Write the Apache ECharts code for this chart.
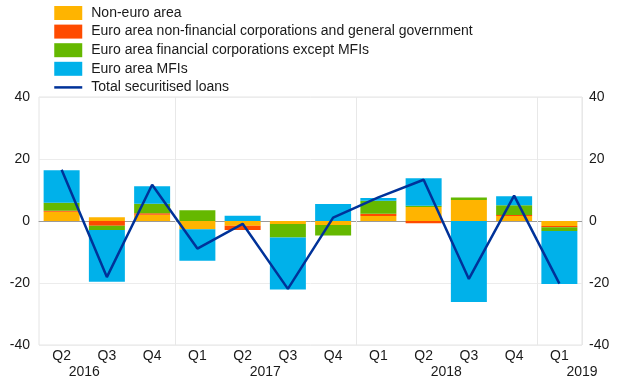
<!DOCTYPE html>
<html>
<head>
<meta charset="utf-8">
<script src="https://cdn.jsdelivr.net/npm/echarts@6/dist/echarts.min.js"></script>
<style>
html,body{margin:0;padding:0;background:#fff;}
#c{width:620px;height:387px;}
</style>
</head>
<body>
<div id="c"></div>
<script>
var quarters = ['Q2','Q3','Q4','Q1','Q2','Q3','Q4','Q1','Q2','Q3','Q4','Q1'];
var yearLabels = ['','2016','','','','2017','','','','2018','','','2019'];
var seriesNames = ['Non-euro area','Euro area non-financial corporations and general government','Euro area financial corporations except MFIs','Euro area MFIs','Total securitised loans'];
var nonEuro = [3.0, 1.2, 2.0, -2.7, -1.5, -1.0, -1.3, 1.6, 4.5, 6.8, 1.6, -1.6];
var nfcGov  = [0.3, -1.5, 0.5, 0, -1.4, 0, 0, 0.7, -0.7, 0, 0.3, -0.4];
var finCorp = [2.6, -1.4, 3.1, 3.5, 0, -4.3, -3.4, 4.2, 0.4, 0.8, 3.2, -1.2];
var mfis    = [10.5, -16.7, 5.6, -10.1, 1.7, -16.8, 5.5, 0.9, 8.9, -26.1, 2.9, -17.1];
var total   = [16.5, -18.1, 11.7, -8.9, -0.9, -21.9, 1.1, 7.6, 13.3, -18.7, 8.2, -20.2];
var yTicks = {min: -40, max: 40, interval: 20};

var colors = ['#FFB400','#FF4B00','#65B800','#00B1EA','#003299'];
var font = "'Liberation Sans', Arial, sans-serif";
var textColor = '#1a1a1a';
var isYearStart = function (i) { return quarters[i] === 'Q1'; };

var chart = echarts.init(document.getElementById('c'), null, {renderer: 'canvas'});
var barSeries = [nonEuro, nfcGov, finCorp, mfis].map(function (d, k) {
  return {
    name: seriesNames[k], type: 'bar', stack: 'a', data: d,
    barWidth: 36, itemStyle: {color: colors[k]}, xAxisIndex: 0, yAxisIndex: 0
  };
});
barSeries.push({
  name: seriesNames[4], type: 'line', data: total, symbol: 'none',
  lineStyle: {color: colors[4], width: 2.5}, itemStyle: {color: colors[4]},
  xAxisIndex: 0, yAxisIndex: 0, z: 5
});

var legendData = seriesNames.slice(0, 4).map(function (n) { return {name: n, icon: 'rect'}; });
legendData.push({name: seriesNames[4], itemStyle: {color: 'transparent', borderWidth: 0, opacity: 0}, lineStyle: {color: colors[4], width: 2.5}});

chart.setOption({
  animation: false,
  textStyle: {fontFamily: font},
  grid: {left: 39, right: 38, top: 97, bottom: 42, show: true, borderColor: '#e4e4e4', borderWidth: 1, containLabel: false},
  legend: {
    orient: 'vertical', left: 48, top: 1, itemWidth: 28, itemHeight: 14, itemGap: 4.6,
    data: legendData,
    textStyle: {fontFamily: font, fontSize: 14, color: textColor, padding: [0, 0, 0, 4]}
  },
  xAxis: [{
    type: 'category', data: quarters, boundaryGap: true,
    axisLine: {show: true, onZero: true, lineStyle: {color: '#9a9a9a', width: 1}},
    axisTick: {show: true, length: 8, interval: isYearStart, lineStyle: {color: '#e4e4e4'}},
    splitLine: {show: true, interval: isYearStart, lineStyle: {color: '#e8e8e8'}},
    axisLabel: {interval: 0, margin: 4, fontSize: 14, color: textColor, fontFamily: font}
  }, {
    type: 'category', data: yearLabels, boundaryGap: false, position: 'bottom',
    axisLine: {show: false, onZero: false}, axisTick: {show: false}, splitLine: {show: false},
    axisLabel: {interval: 0, showMinLabel: true, showMaxLabel: true, margin: 20, fontSize: 14, color: textColor, fontFamily: font}
  }],
  yAxis: [{
    type: 'value', min: yTicks.min, max: yTicks.max, interval: yTicks.interval, position: 'left',
    axisLine: {show: false}, axisTick: {show: false},
    splitLine: {show: true, lineStyle: {color: '#ececec'}},
    axisLabel: {fontSize: 14, color: textColor, margin: 9, fontFamily: font}
  }, {
    type: 'value', min: yTicks.min, max: yTicks.max, interval: yTicks.interval, position: 'right',
    axisLine: {show: false}, axisTick: {show: false}, splitLine: {show: false},
    axisLabel: {fontSize: 14, color: textColor, margin: 7, fontFamily: font}
  }],
  series: barSeries
});
</script>
</body>
</html>
